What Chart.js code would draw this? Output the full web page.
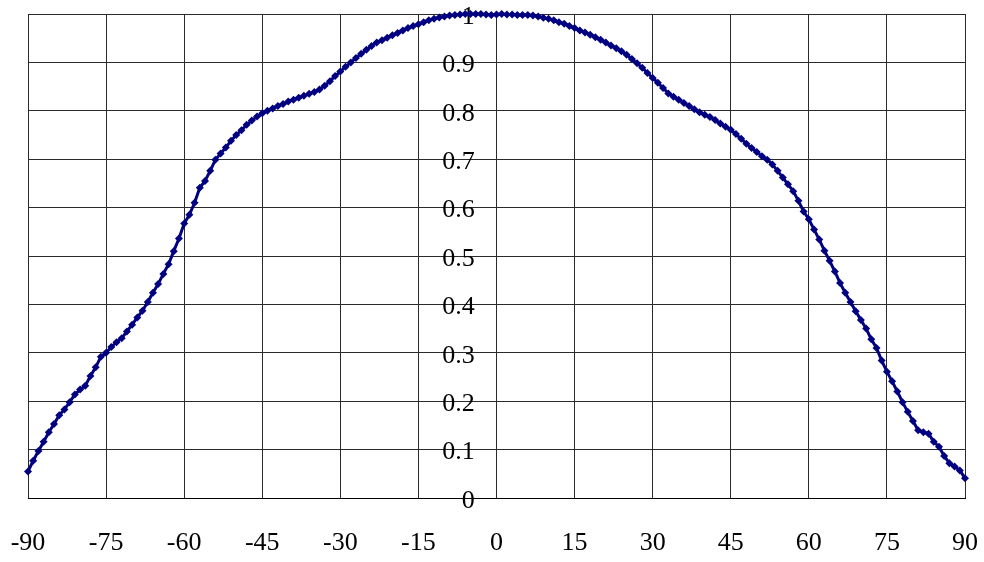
<!DOCTYPE html>
<html>
<head>
<meta charset="utf-8">
<script src="https://cdn.jsdelivr.net/npm/chart.js@4/dist/chart.umd.min.js"></script>
<style>
  html, body { margin: 0; padding: 0; background: #fff; }
  #wrap { width: 984px; height: 562px; position: relative; }
</style>
</head>
<body>
<div id="wrap"><canvas id="profileChart"></canvas></div>
<script>
// Angle in degrees, one sample per degree
const angles = [
  -90, -89, -88, -87, -86, -85, -84, -83, -82, -81, -80, -79, -78, -77, -76, -75,
  -74, -73, -72, -71, -70, -69, -68, -67, -66, -65, -64, -63, -62, -61, -60,
  -59, -58, -57, -56, -55, -54, -53, -52, -51, -50, -49, -48, -47, -46, -45,
  -44, -43, -42, -41, -40, -39, -38, -37, -36, -35, -34, -33, -32, -31, -30,
  -29, -28, -27, -26, -25, -24, -23, -22, -21, -20, -19, -18, -17, -16, -15,
  -14, -13, -12, -11, -10, -9, -8, -7, -6, -5, -4, -3, -2, -1, 0,
  1, 2, 3, 4, 5, 6, 7, 8, 9, 10, 11, 12, 13, 14, 15,
  16, 17, 18, 19, 20, 21, 22, 23, 24, 25, 26, 27, 28, 29, 30,
  31, 32, 33, 34, 35, 36, 37, 38, 39, 40, 41, 42, 43, 44, 45,
  46, 47, 48, 49, 50, 51, 52, 53, 54, 55, 56, 57, 58, 59, 60,
  61, 62, 63, 64, 65, 66, 67, 68, 69, 70, 71, 72, 73, 74, 75,
  76, 77, 78, 79, 80, 81, 82, 83, 84, 85, 86, 87, 88, 89, 90
];

// Normalised intensity at each angle
const intensity = [
  0.055, 0.077, 0.097, 0.116, 0.136, 0.153, 0.171, 0.183, 0.198, 0.214, 0.224, 0.232, 0.252, 0.270, 0.292, 0.300,
  0.312, 0.322, 0.330, 0.344, 0.358, 0.373, 0.387, 0.405, 0.424, 0.442, 0.463, 0.483, 0.510, 0.536, 0.567,
  0.585, 0.610, 0.641, 0.655, 0.676, 0.699, 0.712, 0.724, 0.738, 0.750, 0.760, 0.771, 0.780, 0.788, 0.795,
  0.800, 0.805, 0.810, 0.814, 0.819, 0.823, 0.827, 0.831, 0.835, 0.839, 0.844, 0.852, 0.861, 0.872, 0.881,
  0.891, 0.900, 0.909, 0.918, 0.926, 0.934, 0.941, 0.946, 0.951, 0.956, 0.961, 0.966, 0.971, 0.975, 0.979,
  0.983, 0.987, 0.990, 0.993, 0.995, 0.997, 0.998, 0.999, 1.000, 1.000, 1.000, 1.000, 0.999, 0.998, 0.999,
  1.000, 0.999, 0.999, 0.998, 0.998, 0.998, 0.997, 0.995, 0.992, 0.990, 0.987, 0.983, 0.980, 0.975, 0.971,
  0.966, 0.962, 0.957, 0.952, 0.947, 0.941, 0.935, 0.929, 0.923, 0.916, 0.907, 0.898, 0.889, 0.878, 0.868,
  0.858, 0.847, 0.836, 0.829, 0.823, 0.816, 0.810, 0.803, 0.797, 0.792, 0.787, 0.781, 0.774, 0.767, 0.761,
  0.752, 0.742, 0.732, 0.723, 0.715, 0.706, 0.699, 0.689, 0.676, 0.662, 0.648, 0.634, 0.614, 0.592, 0.576,
  0.555, 0.534, 0.511, 0.490, 0.468, 0.444, 0.424, 0.405, 0.386, 0.368, 0.350, 0.328, 0.310, 0.284, 0.261,
  0.241, 0.220, 0.198, 0.178, 0.159, 0.140, 0.136, 0.133, 0.116, 0.106, 0.087, 0.072, 0.065, 0.057, 0.041
];

// Axis ticks
const xTicks = [-90, -75, -60, -45, -30, -15, 0, 15, 30, 45, 60, 75, 90];
const xTickLabels = ['-90', '-75', '-60', '-45', '-30', '-15', '0', '15', '30', '45', '60', '75', '90'];
const yTicks = [0, 0.1, 0.2, 0.3, 0.4, 0.5, 0.6, 0.7, 0.8, 0.9, 1];
const yTickLabels = ['0', '0.1', '0.2', '0.3', '0.4', '0.5', '0.6', '0.7', '0.8', '0.9', '1'];

const markColor = '#000080';
const gridColor = '#2b2b2b';
const tickFont = { family: '"Liberation Serif", "DejaVu Serif", serif', size: 26 };

// Labels may hang over the plot edges without shrinking it
function noOverhang(scale) {
    scale.paddingLeft = 0;
    scale.paddingRight = 0;
    scale.paddingTop = 0;
    scale.paddingBottom = 0;
}

const ctx = document.getElementById('profileChart').getContext('2d');
const profileChart = new Chart(ctx, {
    type: 'scatter',
    data: {
        datasets: [{
            data: angles.map((a, i) => ({ x: a, y: intensity[i] })),
            showLine: true,
            borderColor: markColor,
            borderWidth: 3,
            backgroundColor: markColor,
            pointStyle: 'rectRot',
            pointRadius: 4,
            pointBorderWidth: 0,
            pointHoverRadius: 4,
            clip: false
        }]
    },
    options: {
        responsive: true,
        maintainAspectRatio: false,
        animation: false,
        layout: {
            padding: { left: 28, right: 19, top: 14, bottom: 0 }
        },
        plugins: {
            legend: { display: false },
            tooltip: { enabled: false }
        },
        scales: {
            x: {
                type: 'linear',
                min: -90,
                max: 90,
                afterBuildTicks: scale => { scale.ticks = xTicks.map(v => ({ value: v })); },
                afterFit: scale => {
                    noOverhang(scale);
                    scale.height = 64;
                },
                grid: { color: gridColor, lineWidth: 1, drawTicks: false },
                border: { color: '#000', width: 1 },
                ticks: {
                    color: '#000',
                    font: tickFont,
                    padding: 30,
                    maxRotation: 0,
                    autoSkip: false,
                    callback: (v, i) => xTickLabels[i]
                }
            },
            y: {
                type: 'linear',
                min: 0,
                max: 1,
                // labels sit just left of the zero line; the line itself comes from the x grid
                position: { x: -4.2 },
                afterBuildTicks: scale => { scale.ticks = yTicks.map(v => ({ value: v })); },
                afterFit: noOverhang,
                grid: { color: gridColor, lineWidth: 1, drawTicks: false },
                border: { display: false },
                ticks: {
                    color: '#000',
                    font: tickFont,
                    labelOffset: 3,
                    autoSkip: false,
                    callback: (v, i) => yTickLabels[i]
                }
            }
        }
    }
});
</script>
</body>
</html>
